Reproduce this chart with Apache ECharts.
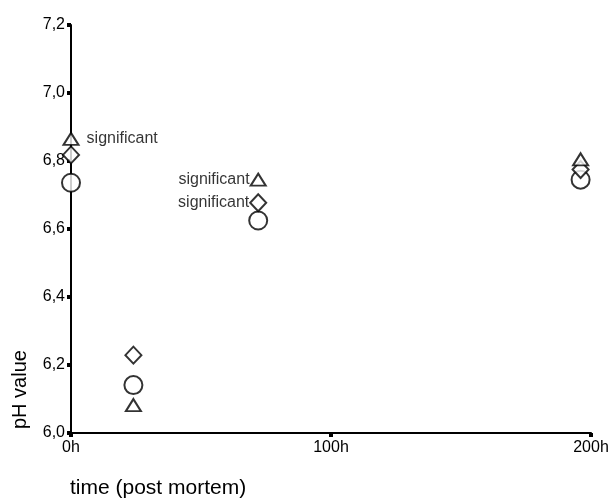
<!DOCTYPE html>
<html>
<head>
<meta charset="utf-8">
<script src="https://cdn.jsdelivr.net/npm/echarts@6/dist/echarts.min.js"></script>
<style>
  html, body { margin: 0; padding: 0; background: #fff; }
  #chart { width: 613px; height: 501px; }
</style>
</head>
<body>
<div id="chart"></div>
<script>
const hours = [0, 24, 72, 196];
const triangleVals = [6.865, 6.082, 6.745, 6.805];
const diamondVals = [6.818, 6.229, 6.677, 6.775];
const circleVals = [6.736, 6.141, 6.625, 6.745];
const xTicks = { 0: "0h", 100: "100h", 200: "200h" };
// which points carry the "significant" note
const sigTriangle = { 0: "right", 2: "left" };
const sigDiamond = { 2: "left" };

var chart = echarts.init(document.getElementById('chart'));

function points(vals, sig) {
    return vals.map((v, i) => {
        const p = { value: [hours[i], v] };
        if (sig && sig[i]) {
            p.label = {
                show: true,
                position: sig[i],
                distance: sig[i] === "left" ? 0 : 7,
                formatter: "significant",
                color: "#000",
                fontFamily: "Liberation Sans",
                fontSize: 16
            };
        }
        return p;
    });
}

const markerStyle = {
    color: "#fff",
    borderColor: "#000",
    borderWidth: 2
};

chart.setOption({
    animation: false,
    grid: { left: 71, right: 22, top: 25, bottom: 68 },
    xAxis: {
        type: "value",
        min: 0,
        max: 200,
        interval: 100,
        splitLine: { show: false },
        axisLine: { lineStyle: { color: "#000", width: 2 } },
        axisTick: { show: true, length: 4, lineStyle: { color: "#000", width: 4 } },
        axisLabel: {
            color: "#000",
            fontFamily: "Liberation Sans",
            fontSize: 16,
            margin: 7,
            formatter: v => xTicks[v] || ""
        }
    },
    yAxis: {
        type: "value",
        min: 6.0,
        max: 7.2,
        interval: 0.2,
        splitLine: { show: false },
        axisLine: { show: true, lineStyle: { color: "#000", width: 2 } },
        axisTick: { show: true, length: 4, lineStyle: { color: "#000", width: 4 } },
        axisLabel: {
            color: "#000",
            fontFamily: "Liberation Sans",
            fontSize: 16,
            margin: 6,
            formatter: v => v.toFixed(1).replace(".", ",")
        }
    },
    series: [
        {
            type: "scatter",
            symbol: "circle",
            symbolSize: 18,
            itemStyle: markerStyle,
            data: points(circleVals)
        },
        {
            type: "scatter",
            symbol: "diamond",
            symbolSize: [16, 17],
            itemStyle: markerStyle,
            data: points(diamondVals, sigDiamond)
        },
        {
            type: "scatter",
            symbol: "triangle",
            symbolSize: [15, 12],
            itemStyle: markerStyle,
            data: points(triangleVals, sigTriangle)
        }
    ],
    graphic: [
        {
            type: "text",
            left: 70,
            top: 478,
            style: { text: "time (post mortem)", fill: "#000", font: "21px Liberation Sans" }
        },
        {
            type: "text",
            x: 10,
            y: 429,
            rotation: Math.PI / 2,
            style: { text: "pH value", fill: "#000", font: "20px Liberation Sans" }
        }
    ]
});

window.addEventListener("resize", () => {
    if (chart) chart.resize();
});
</script>
</body>
</html>
